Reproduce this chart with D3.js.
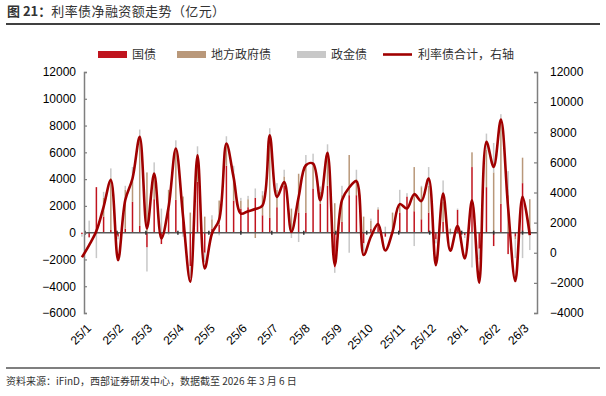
<!DOCTYPE html>
<html>
<head>
<meta charset="utf-8">
<script src="https://cdn.jsdelivr.net/npm/d3@7"></script>
<style>
  body { margin: 0; background: #fff; }
  svg { display: block; }
</style>
</head>
<body>
<div id="chart"></div>
<script>
// weekly net financing (亿元), week ending Sunday
const weeks = [
  "2024-12-29",
  "2025-01-05","2025-01-12","2025-01-19","2025-01-26",
  "2025-02-02","2025-02-09","2025-02-16","2025-02-23",
  "2025-03-02","2025-03-09","2025-03-16","2025-03-23","2025-03-30",
  "2025-04-06","2025-04-13","2025-04-20","2025-04-27",
  "2025-05-04","2025-05-11","2025-05-18","2025-05-25",
  "2025-06-01","2025-06-08","2025-06-15","2025-06-22","2025-06-29",
  "2025-07-06","2025-07-13","2025-07-20","2025-07-27",
  "2025-08-03","2025-08-10","2025-08-17","2025-08-24","2025-08-31",
  "2025-09-07","2025-09-14","2025-09-21","2025-09-28",
  "2025-10-05","2025-10-12","2025-10-19","2025-10-26",
  "2025-11-02","2025-11-09","2025-11-16","2025-11-23","2025-11-30",
  "2025-12-07","2025-12-14","2025-12-21","2025-12-28",
  "2026-01-04","2026-01-11","2026-01-18","2026-01-25",
  "2026-02-01","2026-02-08","2026-02-15","2026-02-22",
  "2026-03-01","2026-03-08"
]
const treasury = [
  -100,
  -350, 3400, 1200, 200,
  -300, 300, 2300, 500,
  -1100, 2500, -850, 1800, 2450,
  1200, -2500, 3800, -1500,
  300, 600, 5000, 2400,
  1800, 1900, 2600, 1300, 1100,
  1900, 3500, 0, 1500,
  1500, 3300, 2150, 3500, -2600,
  800, 2800, 2800, -800,
  300, 1700, -300, 0,
  1500, 2700, 1600, 1000, 1500,
  -500, 800, 0, 1700,
  -200, 4900, -1200, 3400,
  -1000, 2150, -1600, -300,
  3700, 100
]
const localGov = [
  0,
  0, 0, 1400, 3900,
  0, 2900, 1600, 6500,
  4500, 1700, 0, 1400, 3700,
  1500, 1500, 2000, 1200,
  700, 1800, 1700, 2000,
  600, 600, -400, 1500, 6100,
  1300, 700, 1800, 2900,
  3600, 1900, 900, 2400, 2200,
  2000, 3000, 1200, 1200,
  600, 100, 0, 1500,
  600, 0, 3300, 2400, 2000,
  0, 1500, 300, 0,
  0, 1100, 0, 2800,
  4500, 6250, 2800, -200,
  1900, 2400
]
const policyBank = [
  -200,
  900, -1900, 450, 700,
  -200, 300, 1000, 700,
  -1800, 1050, 1800, -150, 750,
  -300, -900, 650, -700,
  300, -200, 500, 600,
  200, 250, 700, 300, 600,
  500, 500, -400, -700,
  700, 700, 400, 700, -400,
  700, -1500, 700, -550,
  150, 100, 450, -100,
  1100, 250, -1000, 100, 1400,
  -300, 1600, -150, 100,
  -200, -2600, -800, 1200,
  2200, 450, 1800, -1400,
  -1900, -1300
]
// 利率债合计 (right axis)
const total = [
  -300,
  510, 1440, 3050, 4820,
  -490, 3500, 4930, 7690,
  1610, 5260, 950, 3050, 6920,
  2400, -1920, 6470, -1040,
  1280, 2200, 7250, 5000,
  2600, 2760, 2900, 3140, 7800,
  3700, 4700, 1390, 3700,
  5810, 5920, 3490, 6630, -820,
  3490, 4330, 4750, -150,
  1060, 1900, 150, 1390,
  3230, 2940, 3890, 3430, 4930,
  -820, 3930, 130, 1770,
  -375, 3490, -1990, 7360,
  5700, 8840, 3000, -1880,
  3710, 1170
]

const leftTicks = d3.range(-6000, 12001, 2000)
const rightTicks = d3.range(-4000, 12001, 2000)
const seriesNames = ["国债", "地方政府债", "政金债"]
const seriesColors = ["#C0141E", "#B9987A", "#C8C8C8"]
const lineName = "利率债合计，右轴"
const lineColor = "#A00000"

const W = 606, H = 396
const plot = {left: 84, right: 537, top: 72, bottom: 313}
const cjk = "'Noto Sans CJK SC', 'Noto Sans', sans-serif"
const num = "'Liberation Sans', Arial, sans-serif"

const parse = d3.timeParse("%Y-%m-%d")
const data = weeks.map((w, i) => ({
  date: parse(w),
  t: treasury[i], l: localGov[i], p: policyBank[i], total: total[i]
}))

const svg = d3.select("#chart").append("svg")
  .attr("width", W).attr("height", H)

// title
const title = svg.append("text")
  .attr("x", 7).attr("y", 16)
  .attr("fill", "#333")
  .style("font-family", cjk)
  .style("font-size", "13px")
title.append("tspan").style("font-weight", "bold").text("图 21：")
title.append("tspan").style("letter-spacing", "0.4px").text("利率债净融资额走势（亿元）")

svg.append("line")
  .attr("x1", 6).attr("x2", 600).attr("y1", 24).attr("y2", 24)
  .attr("stroke", "#000").attr("stroke-width", 1.5)

// scales
const x = d3.scaleTime()
  .domain([new Date(2024, 11, 31), new Date(2026, 2, 15)])
  .range([plot.left, plot.right])
const yL = d3.scaleLinear().domain([-6000, 12000]).range([plot.bottom, plot.top])
const yR = d3.scaleLinear().domain([-4000, 12000]).range([plot.bottom, plot.top])

// bars (stacked, diverging)
const stack = d3.stack()
  .keys(["t", "l", "p"])
  .offset(d3.stackOffsetDiverging)
const layers = stack(data)
const barW = 1.5

const bars = svg.append("g").attr("class", "bars")
layers.forEach((layer, i) => {
  bars.selectAll(null)
    .data(layer)
    .join("rect")
    .attr("x", d => x(d.data.date) - barW / 2)
    .attr("width", barW)
    .attr("y", d => yL(Math.max(d[0], d[1])))
    .attr("height", d => Math.abs(yL(d[0]) - yL(d[1])))
    .attr("fill", seriesColors[i])
})

// zero line + month ticks
const months = d3.timeMonth.range(new Date(2025, 0, 1), new Date(2026, 2, 2))
svg.append("line")
  .attr("x1", plot.left).attr("x2", plot.right)
  .attr("y1", yL(0)).attr("y2", yL(0))
  .attr("stroke", "#595959").attr("stroke-width", 1.5)
svg.append("g").selectAll("line")
  .data(months)
  .join("line")
  .attr("x1", d => x(d)).attr("x2", d => x(d))
  .attr("y1", yL(0) - 2).attr("y2", yL(0) + 2)
  .attr("stroke", "#333").attr("stroke-width", 1.5)

// x labels
const fmt = d3.timeFormat("%y/%-m")
svg.append("g").selectAll("text")
  .data(months)
  .join("text")
  .attr("transform", d => `translate(${x(d) + 1},${323}) rotate(-45)`)
  .attr("text-anchor", "end")
  .attr("dy", "0.7em")
  .attr("fill", "#000")
  .style("font-family", num)
  .style("font-size", "12px")
  .text(d => fmt(d))

// left axis
const axL = svg.append("g")
  .attr("transform", `translate(${plot.left},0)`)
  .call(d3.axisLeft(yL).tickValues(leftTicks).tickFormat(d3.format("d")).tickSize(-3).tickPadding(8))
// right axis
const axR = svg.append("g")
  .attr("transform", `translate(${plot.right},0)`)
  .call(d3.axisRight(yR).tickValues(rightTicks).tickFormat(d3.format("d")).tickSize(-3).tickPadding(13))

;[axL, axR].forEach(ax => {
  ax.select(".domain").attr("stroke", "#7f7f7f").attr("stroke-width", 1.5)
  ax.selectAll(".tick line").attr("stroke", "#7f7f7f").attr("stroke-width", 1.2)
  ax.selectAll("text")
    .attr("fill", "#000")
    .style("font-family", num)
    .style("font-size", "12px")
})

// total line
const line = d3.line()
  .x(d => x(d.date))
  .y(d => yR(d.total))
  .curve(d3.curveCatmullRom.alpha(0.5))
svg.append("path")
  .datum(data)
  .attr("d", line)
  .attr("fill", "none")
  .attr("stroke", lineColor)
  .attr("stroke-width", 2.6)

// legend
const legend = svg.append("g").attr("class", "legend")
const legendX = [98, 177, 297]
seriesNames.forEach((name, i) => {
  legend.append("rect")
    .attr("x", legendX[i]).attr("y", 51)
    .attr("width", 29).attr("height", 7)
    .attr("fill", seriesColors[i])
  legend.append("text")
    .attr("x", legendX[i] + 34).attr("y", 59)
    .attr("fill", "#333")
    .style("font-family", cjk).style("font-size", "12px")
    .text(name)
})
legend.append("line")
  .attr("x1", 383).attr("x2", 412).attr("y1", 54.5).attr("y2", 54.5)
  .attr("stroke", lineColor).attr("stroke-width", 2.6)
legend.append("text")
  .attr("x", 418).attr("y", 59)
  .attr("fill", "#333")
  .style("font-family", cjk).style("font-size", "12px")
  .text(lineName)

// footer
svg.append("line")
  .attr("x1", 6).attr("x2", 600).attr("y1", 368).attr("y2", 368)
  .attr("stroke", "#000").attr("stroke-width", 1.2)
svg.append("text")
  .attr("x", 6).attr("y", 385)
  .attr("fill", "#333")
  .style("font-family", cjk).style("font-size", "10px")
  .text("资料来源：iFinD，西部证券研发中心，数据截至 2026 年 3 月 6 日")
</script>
</body>
</html>
